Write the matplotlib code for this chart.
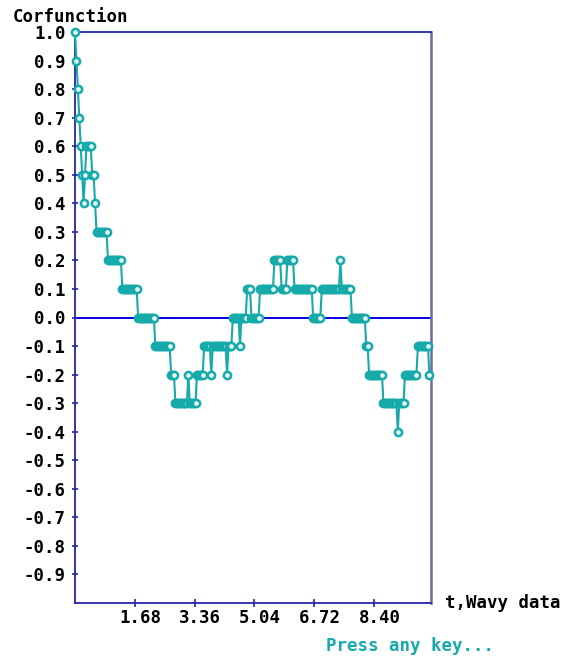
import numpy as np
import matplotlib
matplotlib.use("Agg")
import matplotlib.pyplot as plt

# Correlation function of the wavy record, stored run by run:
# each level is held for the given number of samples.
levels = [1.0, 0.9, 0.8, 0.7, 0.6, 0.5, 0.4, 0.5, 0.6, 0.5, 0.4, 0.3, 0.2, 0.1,
          0.0, -0.1, -0.2, -0.3, -0.2, -0.3, -0.2, -0.1, -0.2, -0.1, -0.2, -0.1,
          0.0, -0.1, 0.0, 0.1, 0.0, 0.1, 0.2, 0.1, 0.2, 0.1, 0.0, 0.1, 0.2, 0.1,
          0.0, -0.1, -0.2, -0.3, -0.4, -0.3, -0.2, -0.1, -0.2]
runs = [1, 1, 1, 1, 1, 1, 1, 1, 4, 2, 1, 8, 10, 11,
        12, 11, 3, 9, 1, 5, 5, 5, 1, 10, 1, 3,
        5, 1, 4, 3, 6, 10, 5, 4, 5, 13, 6, 13, 1, 7,
        10, 2, 10, 10, 1, 4, 9, 8, 1]
dt = 0.0403

x_ticks = [1.68, 3.36, 5.04, 6.72, 8.40]
x_tick_labels = ["1.68", "3.36", "5.04", "6.72", "8.40"]
y_ticks = [1.0, 0.9, 0.8, 0.7, 0.6, 0.5, 0.4, 0.3, 0.2, 0.1, 0.0,
           -0.1, -0.2, -0.3, -0.4, -0.5, -0.6, -0.7, -0.8, -0.9]
y_tick_labels = ["1.0", "0.9", "0.8", "0.7", "0.6", "0.5", "0.4", "0.3", "0.2", "0.1", "0.0",
                 "-0.1", "-0.2", "-0.3", "-0.4", "-0.5", "-0.6", "-0.7", "-0.8", "-0.9"]

values = np.repeat(levels, runs)
t = np.arange(len(values)) * dt

TEAL = "#16AAAA"
NAVY = "#2626A6"
FONT = dict(family="DejaVu Sans Mono", weight="bold", size=12.5, color="black")

fig = plt.figure(figsize=(5.72, 6.57), dpi=100)
ax = fig.add_axes([75 / 572, 54 / 657, 356 / 572, 571 / 657])
ax.set_xlim(0, 10)
ax.set_ylim(-1.0, 1.0)

ax.axhline(0.0, color="#0000DD", lw=1.4, zorder=1)
ax.plot(t, values, color=TEAL, lw=1.5, marker="o", ms=5.2,
        mfc="#E8F8F8", mec=TEAL, mew=1.8, clip_on=False, zorder=3)

for side in ("left", "top", "bottom"):
    ax.spines[side].set_color(NAVY)
    ax.spines[side].set_linewidth(1.3)
ax.spines["right"].set_color("#6A6AA6")
ax.spines["right"].set_linewidth(1.8)

ax.set_xticks(x_ticks)
ax.set_xticklabels([])
ax.set_yticks(y_ticks)
ax.set_yticklabels(y_tick_labels, fontdict=FONT)
ax.tick_params(axis="both", direction="inout", color=NAVY, width=1.2)
ax.tick_params(axis="y", length=5, pad=4)
ax.tick_params(axis="x", length=6)

for xv, lab in zip(x_ticks, x_tick_labels):
    ax.annotate(lab, xy=(xv, -1.0), xycoords="data", xytext=(4, -10.5),
                textcoords="offset points", ha="center", va="center", **FONT)

fig.text(13 / 572, 1 - 17 / 657, "Corfunction", ha="left", va="center", **FONT)
fig.text(445 / 572, 1 - 603 / 657, "t,Wavy data", ha="left", va="center", **FONT)
fig.text(326 / 572, 1 - 646 / 657, "Press any key...", ha="left", va="center",
         family="DejaVu Sans Mono", weight="bold", size=12.5, color=TEAL)

fig.savefig("out.png", dpi=100)
